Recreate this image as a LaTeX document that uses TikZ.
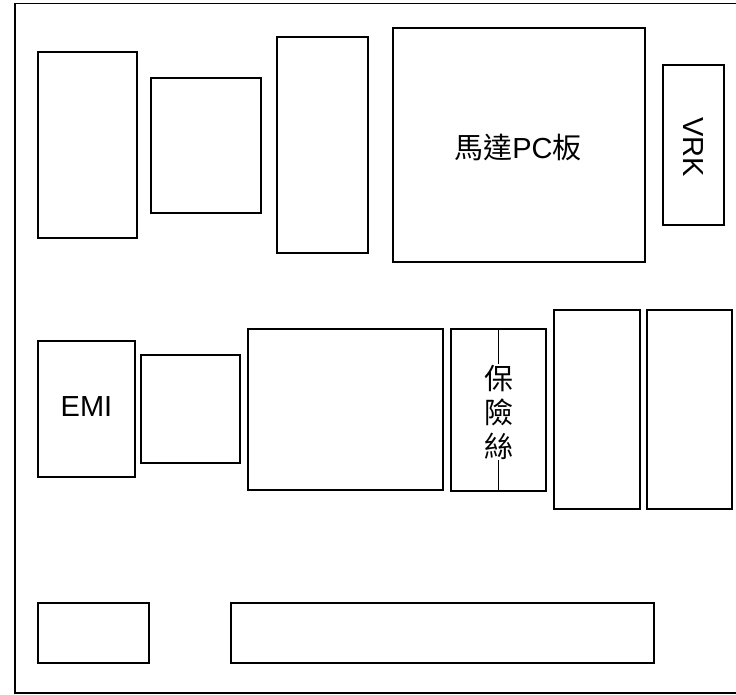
\documentclass[tikz,border=0pt]{standalone}
\usepackage{fontspec}
\setmainfont{Liberation Sans}
\newfontfamily\cjk{Noto Sans CJK TC}
\begin{document}
\begin{tikzpicture}[x=1pt,y=-1pt,
  box/.style={draw,line width=1.8pt,inner sep=0pt},
  lbl/.style={font=\fontsize{29}{33}\selectfont,inner sep=1pt}]
\useasboundingbox (0,0) rectangle (736,694);
% frame
\draw[line width=1.6pt] (736,3.3) -- (14.7,3.3) -- (14.7,692.7) -- (736,692.7);
% top row
\node[box,minimum width=99pt,minimum height=186.3pt] (A) at (87.8,145.2) {};
\node[box,minimum width=110.6pt,minimum height=135pt] (B) at (206,145.2) {};
\node[box,minimum width=91pt,minimum height=216pt] (C) at (322.5,145.3) {};
\node[box,minimum width=252.3pt,minimum height=234pt] (motor) at (518.9,145.3) {};
\node[lbl] (motorlbl) at (518,147) {{\cjk 馬達}PC{\cjk 板}};
\node[box,minimum width=60.7pt,minimum height=159.7pt] (vrk) at (693.7,145.2) {};
\node[lbl,rotate=-90] (vrklbl) at (693.7,147) {VRK};
% middle row
\node[box,minimum width=97pt,minimum height=136pt] (emi) at (86.5,409.3) {};
\node[lbl] (emilbl) at (86.5,407) {EMI};
\node[box,minimum width=98.7pt,minimum height=108pt] (small) at (190.7,409.3) {};
\node[box,minimum width=194.4pt,minimum height=161.3pt] (big) at (345.5,409.3) {};
\node[box,minimum width=95pt,minimum height=162pt] (fuse) at (498.5,409.7) {};
\node[font=\fontsize{29}{34}\selectfont\cjk,align=center,inner sep=1pt,fill=white] (fuselbl) at (498.5,412) {保\\險\\絲};
\draw[line width=1.8pt] (fuse.north) -- (fuselbl.north);
\draw[line width=1.8pt] (fuselbl.south) -- (fuse.south);
\node[box,minimum width=86pt,minimum height=199.3pt] (R1) at (597,409.7) {};
\node[box,minimum width=85pt,minimum height=199.3pt] (R2) at (689.2,409.7) {};
% bottom row
\node[box,minimum width=111pt,minimum height=60pt] (BL) at (93.2,633.3) {};
\node[box,minimum width=423.6pt,minimum height=60pt] (BB) at (442.5,633.3) {};
\end{tikzpicture}
\end{document}
